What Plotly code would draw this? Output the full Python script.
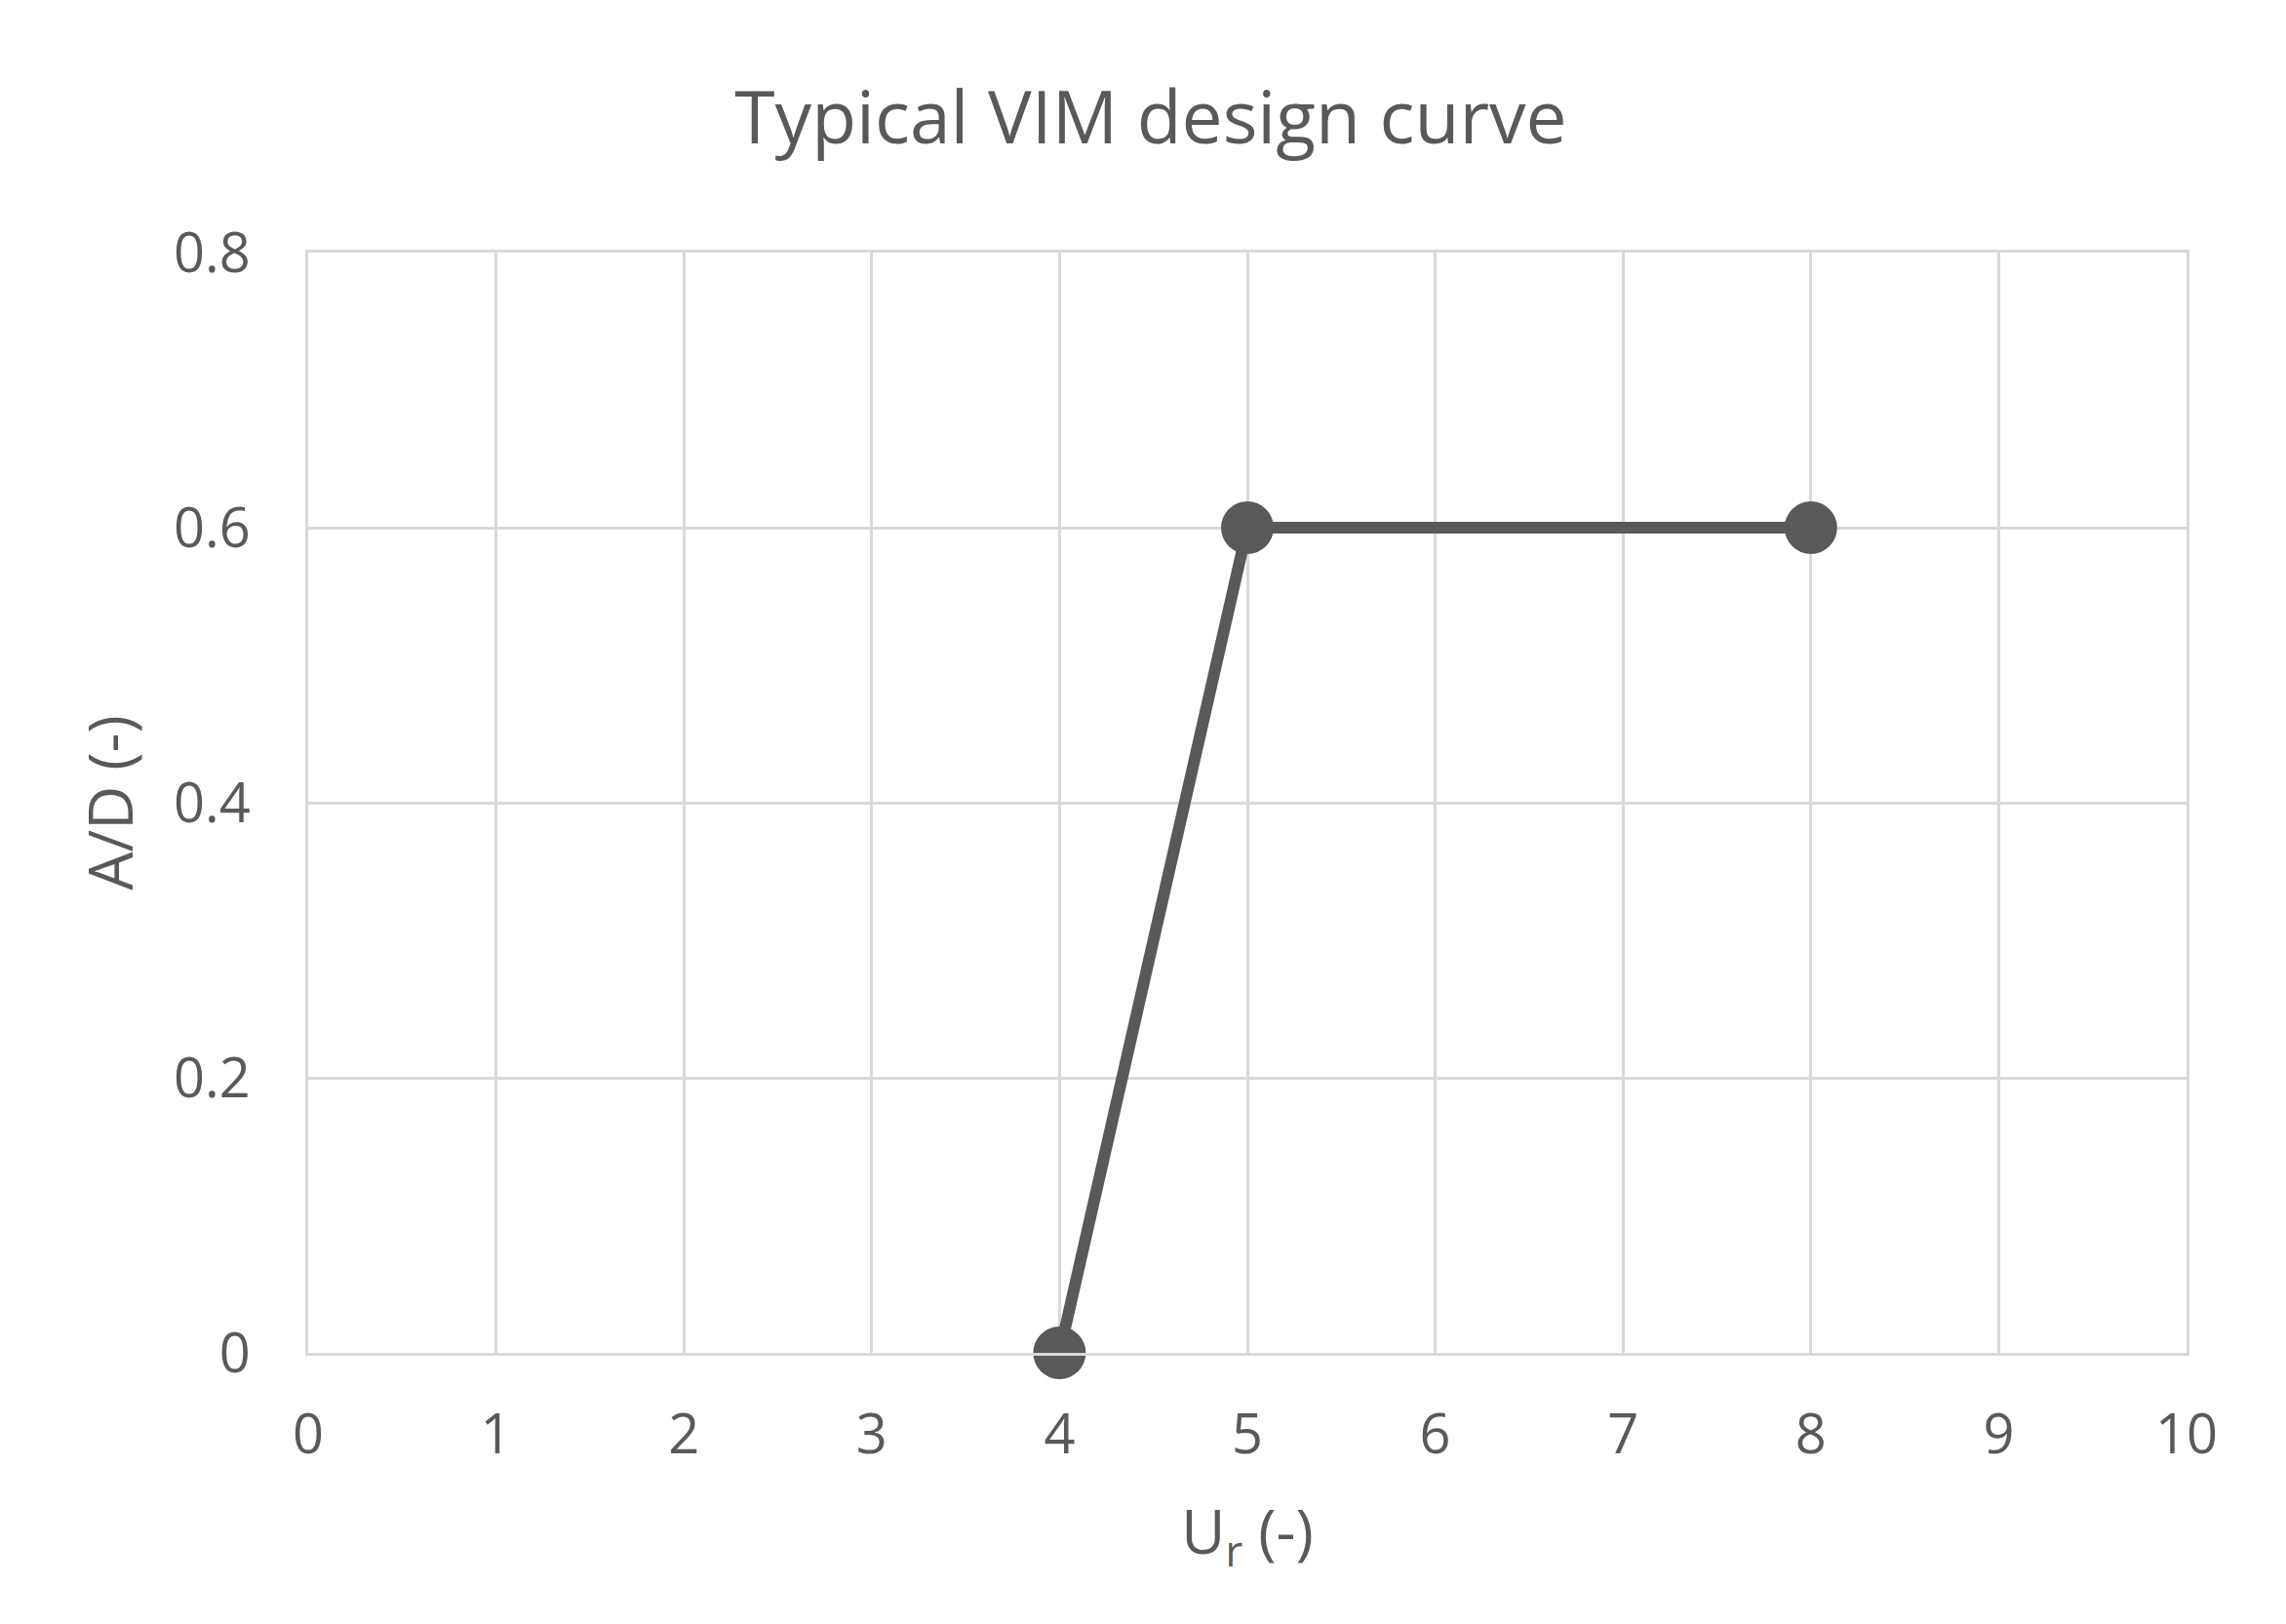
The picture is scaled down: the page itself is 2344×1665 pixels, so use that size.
import plotly.graph_objects as go

# VIM design curve points
ur = [4, 5, 8]
amp = [0, 0.6, 0.6]

x_ticks = [0, 1, 2, 3, 4, 5, 6, 7, 8, 9, 10]
y_ticks = [0, 0.2, 0.4, 0.6, 0.8]
y_tick_text = ["0", "0.2", "0.4", "0.6", "0.8"]

grey = "#595959"
grid = "#d9d9d9"

fig = go.Figure()
fig.add_trace(go.Scatter(
    x=ur, y=amp, mode="lines+markers",
    line=dict(color=grey, width=12),
    marker=dict(color=grey, size=54),
    showlegend=False, cliponaxis=False,
))

fig.update_layout(
    width=2344, height=1665,
    paper_bgcolor="white", plot_bgcolor="white",
    font=dict(family="Open Sans", color=grey, size=56),
    title=dict(text="Typical VIM design curve", x=0.5, xanchor="center",
               y=0.932, yanchor="middle", font=dict(size=75, color=grey)),
    margin=dict(l=308, r=110, t=251, b=286),
)

fig.update_xaxes(
    range=[0, 10], tickvals=x_ticks, showgrid=True, gridcolor=grid, gridwidth=3,
    zeroline=False, showline=True, linecolor=grid, linewidth=3, mirror=True,
    ticks="", ticklabelstandoff=33,
    title=dict(text="U<sub>r</sub> (-)", standoff=45, font=dict(size=62, color=grey)),
)
fig.update_yaxes(
    range=[0, 0.8], tickvals=y_ticks, ticktext=y_tick_text, showgrid=True,
    gridcolor=grid, gridwidth=3, zeroline=False, showline=True, linecolor=grid,
    linewidth=3, mirror=True, ticks="", ticklabelstandoff=45,
    title=dict(text="A/D (-)", standoff=22, font=dict(size=62, color=grey)),
)

fig.write_html("out.html")
